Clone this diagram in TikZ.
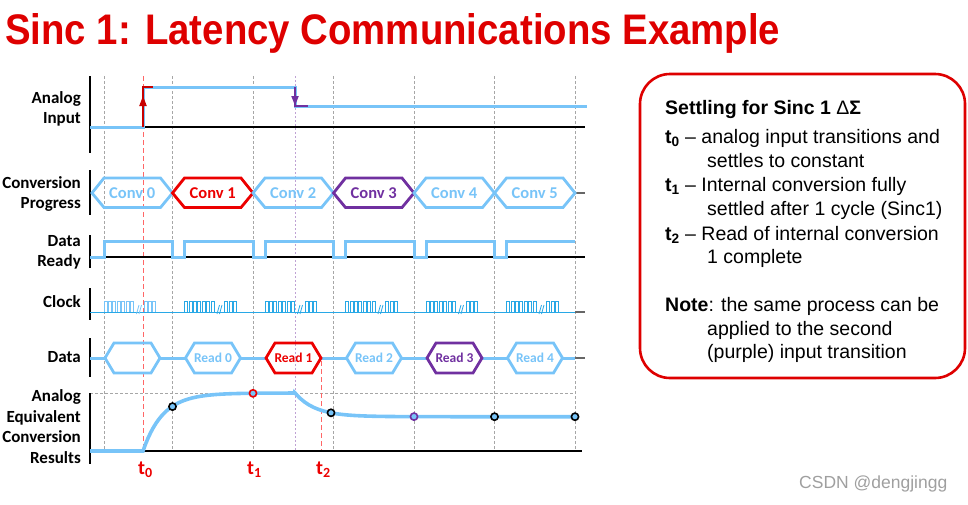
\documentclass[tikz,border=0pt]{standalone}
\usepackage{fontspec}
\setmainfont{Liberation Sans}
\newfontfamily\calib{Carlito}
\usetikzlibrary{arrows.meta}
\definecolor{lblue}{RGB}{120,196,248}
\definecolor{cblue}{RGB}{40,168,230}
\definecolor{cred}{RGB}{236,0,0}
\definecolor{cpurple}{RGB}{112,48,160}
\definecolor{tred}{RGB}{222,0,0}
\definecolor{ared}{RGB}{200,0,0}
\begin{document}
\begin{tikzpicture}[x=1pt,y=-1pt,
  gridln/.style={gray!70,line width=0.8pt,dash pattern=on 3pt off 2pt},
  sig/.style={lblue,line width=3pt,line join=miter},
  axisln/.style={black,line width=1.2pt},
  endln/.style={gray!80!black,line width=1.2pt},
  hexln/.style={line width=2.8pt,line join=miter},
  rowlbl/.style={font=\calib\bfseries\fontsize{17}{20}\selectfont,anchor=base east,inner sep=0pt},
  convtxt/.style={font=\calib\bfseries\fontsize{16.5}{18}\selectfont,inner sep=0pt},
  readtxt/.style={font=\calib\bfseries\fontsize{13.5}{15}\selectfont,inner sep=0pt},
  tlab/.style={font=\calib\bfseries\fontsize{20}{22}\selectfont,text=cred,anchor=base west,inner sep=0pt},
  boxtxt/.style={font=\fontsize{19.5}{24}\selectfont,anchor=base west,inner sep=0pt},
  dot/.style={line width=1.6pt,fill=lblue}
]
\useasboundingbox (0,0) rectangle (968,504);

% title
\node[anchor=base west,inner sep=0pt,text=tred] (title) at (5,44)
  {\resizebox{775pt}{31pt}{\bfseries Sinc 1: Latency Communications Example}};

% grid lines
\foreach \gx in {104,172.5,253,333.5,414,494.5,575}
  \draw[gridln] (\gx,76) -- (\gx,451);
\draw[gridln] (90,393) -- (575,393);
\draw[cpurple!45,line width=0.9pt,dash pattern=on 2pt off 2pt] (295,76) -- (295,451);
\draw[red!60,line width=1pt,dash pattern=on 5pt off 3pt] (143,76) -- (143,451);
\draw[red!60,line width=1pt,dash pattern=on 5pt off 3pt] (321,361) -- (321,451);

% row labels
\node[rowlbl] (lA1) at (81,103) {Analog};
\node[rowlbl] (lA2) at (81,123) {Input};
\node[rowlbl] (lC1) at (81,188) {Conversion};
\node[rowlbl] (lC2) at (81,208) {Progress};
\node[rowlbl] (lD1) at (81,246) {Data};
\node[rowlbl] (lD2) at (81,266.5) {Ready};
\node[rowlbl] (lK)  at (81,307) {Clock};
\node[rowlbl] (lDa) at (81,362.5) {Data};
\node[rowlbl] (lE1) at (81,401.5) {Analog};
\node[rowlbl] (lE2) at (81,422) {Equivalent};
\node[rowlbl] (lE3) at (81,442.5) {Conversion};
\node[rowlbl] (lE4) at (81,463) {Results};

% axes
\draw[axisln] (90,76) -- (90,153);
\draw[axisln] (90,127) -- (585,127);
\draw[axisln] (90,170) -- (90,215);
\draw[endln] (575,193) -- (585,193);
\draw[axisln] (90,235) -- (90,268);
\draw[axisln] (90,257) -- (585,257);
\draw[axisln] (90,288) -- (90,320);
\draw[cblue,line width=1pt] (90,312) -- (575,312);
\draw[endln] (575,312) -- (585,312);
\draw[axisln] (90,338) -- (90,377);
\draw[endln] (575,358) -- (585,358);
\draw[axisln] (90,393) -- (90,464);
\draw[axisln] (90,451) -- (582,451);

% analog input
\draw[sig] (90,127) -- (143,127) -- (143,87) -- (295,87) -- (295,106) -- (587,106);
\draw[ared,line width=1.3pt] (143,127) -- (143,87) -- (153,87);
\fill[ared] (143,96) -- (139.2,106) -- (146.8,106) -- cycle;
\draw[cpurple,line width=1.3pt] (295,87) -- (295,106) -- (308,106);
\fill[cpurple] (295,105.5) -- (291.2,96) -- (298.8,96) -- cycle;

% conversion progress
\foreach \k/\c/\t in {0/lblue/Conv 0,1/cred/Conv 1,2/lblue/Conv 2,3/cpurple/Conv 3,4/lblue/Conv 4,5/lblue/Conv 5} {
  \pgfmathsetmacro\xl{92+80.5*\k}
  \pgfmathsetmacro\xr{\xl+80.5}
  \draw[hexln,draw=\c] (\xl,193) -- (\xl+12,178) -- (\xr-12,178) -- (\xr,193) -- (\xr-12,207.5) -- (\xl+12,207.5) -- cycle;
  \node[convtxt,text=\c] (conv\k) at ({(\xl+\xr)/2},193) {\t};
}

% data ready
\draw[sig] (90,257) -- (104,257) -- (104,241) -- (172.5,241) -- (172.5,257) -- (184.5,257) -- (184.5,241)
  -- (253,241) -- (253,257) -- (265,257) -- (265,241) -- (333.5,241) -- (333.5,257) -- (345.5,257) -- (345.5,241)
  -- (414,241) -- (414,257) -- (426,257) -- (426,241) -- (494.5,241) -- (494.5,257) -- (506.5,257) -- (506.5,241)
  -- (575,241);

% clock
\foreach \j/\cc in {0/lblue,1/cblue,2/cblue,3/cblue,4/cblue,5/cblue} {
  \pgfmathsetmacro\xo{104+80.5*\j}
  \foreach \i in {0,...,6}
    \draw[\cc,line width=0.9pt] (\xo+\i*4.45,312) -- (\xo+\i*4.45,301) -- (\xo+\i*4.45+3,301) -- (\xo+\i*4.45+3,312);
  \draw[\cc,line width=0.8pt] (\xo+32.5,314) -- (\xo+35,305);
  \draw[\cc,line width=0.8pt] (\xo+35,314) -- (\xo+37.5,305);
  \foreach \i in {0,1,2}
    \draw[\cc,line width=0.9pt] (\xo+40+\i*4.45,312) -- (\xo+40+\i*4.45,301) -- (\xo+43+\i*4.45,301) -- (\xo+43+\i*4.45,312);
}

% data
\draw[sig] (90,358) -- (105,358);
\draw[sig] (160,358) -- (185.5,358);
\draw[sig] (240.5,358) -- (266,358);
\draw[sig] (321,358) -- (346.5,358);
\draw[sig] (401.5,358) -- (427,358);
\draw[sig] (482,358) -- (507.5,358);
\draw[sig] (562.5,358) -- (575,358);
\foreach \j/\c/\t in {0/lblue/{},1/lblue/Read 0,2/cred/Read 1,3/lblue/Read 2,4/cpurple/Read 3,5/lblue/Read 4} {
  \pgfmathsetmacro\xl{105+80.5*\j}
  \pgfmathsetmacro\xr{\xl+55}
  \draw[hexln,draw=\c] (\xl,358) -- (\xl+9,343) -- (\xr-9,343) -- (\xr,358) -- (\xr-9,373) -- (\xl+9,373) -- cycle;
  \node[readtxt,text=\c] (read\j) at ({(\xl+\xr)/2},358) {\t};
}

% analog equivalent conversion results
\draw[lblue,line width=3.6pt] (90,451) -- (143,451)
  -- plot[domain=143:295,samples=60] (\x,{393+58*exp(-(\x-143)/20)})
  -- plot[domain=295:575,samples=60] (\x,{416.7-23.7*exp(-(\x-295)/20)});
\draw[dot,draw=black] (172.5,406.6) circle (3.6);
\draw[dot,draw=cred] (253,393.3) circle (3.6);
\draw[dot,draw=black] (331,412.8) circle (3.6);
\draw[dot,draw=cpurple] (414,416.6) circle (3.6);
\draw[dot,draw=black] (494.5,416.7) circle (3.6);
\draw[dot,draw=black] (575,416.7) circle (3.6);

\node[tlab] (t0) at (138,474) {t\textsubscript{0}};
\node[tlab] (t1) at (247,474) {t\textsubscript{1}};
\node[tlab] (t2) at (316,474) {t\textsubscript{2}};

% right box
\draw[tred,line width=2.6pt,rounded corners=30pt] (640,74) rectangle (965,378);
\node[boxtxt] (b0) at (665,114) {\bfseries Settling for Sinc 1 {\mdseries Δ}Σ};
\node[boxtxt] (b1) at (665,143) {\textbf{t\textsubscript{0}} – analog input transitions and};
\node[boxtxt] (b2) at (707,167) {settles to constant};
\node[boxtxt] (b3) at (665,191.5) {\textbf{t\textsubscript{1}} – Internal conversion fully};
\node[boxtxt] (b4) at (707,215.5) {settled after 1 cycle (Sinc1)};
\node[boxtxt] (b5) at (665,240) {\textbf{t\textsubscript{2}} – Read of internal conversion};
\node[boxtxt] (b6) at (707,263.5) {1 complete};
\node[boxtxt] (b7) at (665,311.5) {\textbf{Note}: the same process can be};
\node[boxtxt] (b8) at (707,335) {applied to the second};
\node[boxtxt] (b9) at (707,358.5) {(purple) input transition};

% watermark
\node[anchor=base west,inner sep=0pt,text=gray!75,font=\fontsize{17.5}{20}\selectfont] (wm) at (799,488) {CSDN @dengjingg};
\end{tikzpicture}
\end{document}
